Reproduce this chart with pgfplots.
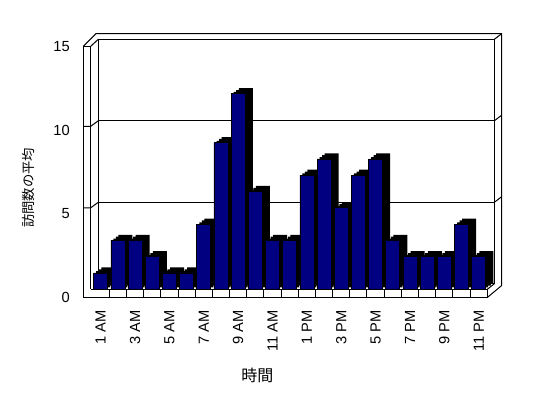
\documentclass[border=0pt]{standalone}
\usepackage{pgfplots}
\usepackage{pgfplotstable}
\pgfplotsset{compat=1.18}
\usepackage{fontspec}
\setmainfont{Liberation Sans}
\newfontfamily\jp{Noto Sans CJK JP}
\definecolor{barblue}{RGB}{0,0,128}

\pgfplotstableread{
x y
1 1
2 3
3 3
4 2
5 1
6 1
7 4
8 9
9 12
10 6
11 3
12 3
13 7
14 8
15 5
16 7
17 8
18 3
19 2
20 2
21 2
22 4
23 2
}\visits

\begin{document}
\begin{tikzpicture}[line width=0.75pt]
\useasboundingbox (-69.075pt,-81.525pt) rectangle (341.925pt,216.975pt);
% back wall with gridlines
\begin{axis}[at={(4.65pt,4.125pt)}, anchor=south west, scale only axis,
  width=297pt, height=183.375pt, xmin=0, xmax=1, ymin=0, ymax=15,
  xtick=\empty, ytick={5,10}, yticklabels={}, ymajorgrids,
  major tick length=0pt, axis line style={line width=0.75pt},
  grid style={black, line width=0.75pt}]
\end{axis}
% 3D frame
\begin{scope}[x=0.75pt,y=-0.75pt,shift={(-69.075pt,216.975pt)}]
  \draw (83.3,297.5) -- (83.3,46.3) -- (90.7,46.3) -- (90.7,289.3);
  \draw (83.3,46.3) -- (96,33.7) -- (501.7,33.7) -- (501.7,285.5) -- (487.3,297.5);
  \draw (90.7,46.3) -- (98.3,39.3);
  \draw (494.3,39.3) -- (501.7,33.7);
  \draw (83.3,126.3) -- (90.7,126.3) -- (98.3,120.8);
  \draw (83.3,207.8) -- (90.7,207.8) -- (98.3,202.3);
  \draw (494.3,120.8) -- (501.7,115.2);
  \draw (494.3,202.3) -- (501.7,196.7);
  \draw (83.3,297.5) -- (487.3,297.5) -- (487.3,289.3) -- (90.7,289.3);
  \draw (487.3,289.3) -- (494.3,283.8);
  \foreach \k in {1,...,22} { \draw (92.1+17.18*\k,289.3) -- ++(0,8.2); }
\end{scope}
% y tick labels on the outer front plane
\begin{axis}[at={(-6.6pt,-6.15pt)}, anchor=south west, scale only axis,
  width=10pt, height=188.4pt, xmin=0, xmax=1, ymin=0, ymax=15,
  xtick=\empty, ytick={0,5,10,15}, axis line style={draw=none},
  major tick length=0pt,
  /pgf/number format/assume math mode=true,
  yticklabel style={anchor=east, inner sep=0pt, xshift=-10pt,
    font=\fontsize{11}{13}\selectfont}]
\end{axis}
% bars
\begin{axis}[at={(0pt,0pt)}, anchor=south west, scale only axis,
  width=296.4pt, height=183.375pt, xmin=0.5, xmax=23.5, ymin=0, ymax=15,
  clip=false, axis line style={draw=none}, major tick length=0pt,
  ybar, bar width=10.5pt,
  ytick=\empty,
  xtick={1,3,...,23},
  xticklabels={1 AM,3 AM,5 AM,7 AM,9 AM,11 AM,1 PM,3 PM,5 PM,7 PM,9 PM,11 PM},
  xticklabel style={rotate=90, anchor=east, inner sep=0pt,
    font=\fontsize{11}{13}\selectfont},
  xticklabel shift=15.5pt,
  xlabel={\jp 時間},
  xlabel style={at={(axis description cs:0.4185,0)}, anchor=center,
    yshift=-64.3pt, font=\fontsize{12}{14}\selectfont},
  ylabel={\jp 訪問数の平均},
  ylabel style={at={(axis description cs:-0.1609,0.4155)}, anchor=center,
    font=\fontsize{10}{12}\selectfont}]
\addplot[fill=black, draw=none, bar shift=0pt, xshift=1.9pt, yshift=1.375pt] table {\visits};
\addplot[fill=black, draw=none, bar shift=0pt, xshift=3.8pt, yshift=2.75pt] table {\visits};
\addplot[fill=black, draw=none, bar shift=0pt, xshift=5.7pt, yshift=4.125pt] table {\visits};
\addplot[fill=barblue, draw=black, line width=0.5pt, bar shift=0pt] table {\visits};
\end{axis}
\end{tikzpicture}
\end{document}
